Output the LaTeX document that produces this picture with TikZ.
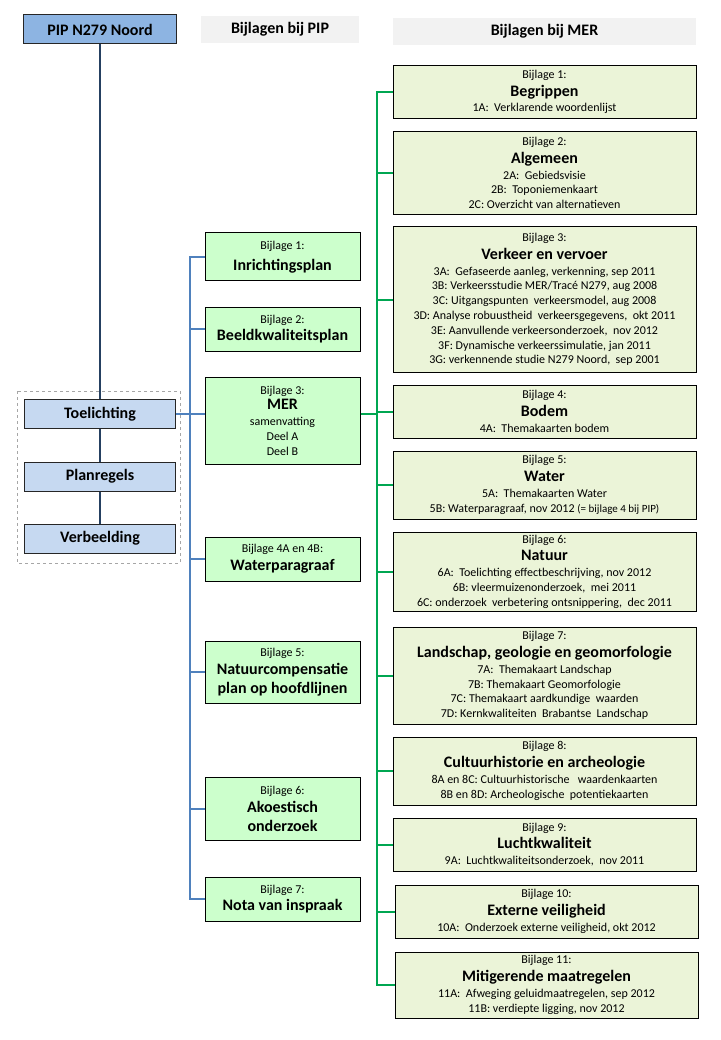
\documentclass[tikz,border=0pt]{standalone}
\usepackage{fontspec}
\setmainfont{Carlito}
\usetikzlibrary{positioning}
\definecolor{pipblue}{RGB}{141,180,226}
\definecolor{docblue}{RGB}{198,217,241}
\definecolor{pipgreen}{RGB}{204,255,204}
\definecolor{mergreen}{RGB}{235,244,216}
\definecolor{headgray}{RGB}{242,242,242}
\definecolor{navyline}{RGB}{37,64,97}
\definecolor{blueline}{RGB}{79,129,189}
\definecolor{greenline}{RGB}{0,166,81}
\newcommand{\kop}[1]{{\fontsize{16}{18}\selectfont\bfseries #1}}
\tikzset{
  pipbox/.style={draw=black!85, fill=pipblue, line width=1pt, minimum width=153pt, minimum height=29pt, inner sep=0pt, font=\fontsize{16}{18}\selectfont\bfseries},
  docbox/.style={draw=black!85, fill=docblue, line width=1pt, minimum width=151pt, minimum height=29pt, inner sep=0pt, font=\fontsize{16}{18}\selectfont\bfseries},
  kopbalk/.style={fill=headgray, minimum height=27pt, inner sep=0pt, font=\fontsize{16}{18}\selectfont\bfseries},
  pipbijlage/.style={draw=black, fill=pipgreen, line width=1pt, minimum width=155pt, inner sep=0pt, align=center},
  merbijlage/.style={draw=black, fill=mergreen, line width=1pt, minimum width=303pt, inner sep=0pt, align=center},
  navylijn/.style={draw=navyline, line width=2pt},
  pipspoor/.style={draw=blueline, line width=2pt},
  merspoor/.style={draw=greenline, line width=2pt}
}

\begin{document}
\begin{tikzpicture}[x=1pt, y=-1pt, every node/.style={font=\fontsize{12}{14.8}\selectfont}]
  \useasboundingbox (0,0) rectangle (720,1040);

  % Hoofddocument en kopjes
  \node[pipbox] (pip) at (100,29.5) {PIP N279 Noord};
  \node[kopbalk, minimum width=158pt] (hdpip) at (280,29.5) {Bijlagen bij PIP};
  \node[kopbalk, minimum width=303pt] (hdmer) at (544.5,31.5) {Bijlagen bij MER};

  % Onderdelen van het PIP (in gestippeld kader)
  \draw[gray!70, dashed, line width=0.5pt] (17,391) rectangle (180,563);
  \node[docbox] (toel) at (100,414) {Toelichting};
  \node[docbox] (plan) at (100,476.5) {Planregels};
  \node[docbox] (verb) at (100,538.5) {Verbeelding};

  % Bijlagen bij PIP
  \node[pipbijlage, minimum height=48pt] (pb1) at (282.5,257) {Bijlage 1:\\[6pt] \kop{Inrichtingsplan}};
  \node[pipbijlage, minimum height=44pt] (pb2) at (282.5,329) {Bijlage 2:\\[3pt] \kop{Beeldkwaliteitsplan}};
  \node[pipbijlage, minimum height=87pt] (pb3) at (282.5,420.5) {Bijlage 3:\\[1pt] \kop{MER}\\[1pt] samenvatting\\ Deel A\\ Deel B};
  \node[pipbijlage, minimum height=44pt] (pb4) at (282.5,559) {Bijlage 4A en 4B:\\[3pt] \kop{Waterparagraaf}};
  \node[pipbijlage, minimum height=62pt] (pb5) at (282.5,672) {Bijlage 5:\\[3pt] \kop{Natuurcompensatie}\\[4pt] \kop{plan op hoofdlijnen}};
  \node[pipbijlage, minimum height=63pt] (pb6) at (282.5,809) {Bijlage 6:\\[3pt] \kop{Akoestisch}\\[4pt] \kop{onderzoek}};
  \node[pipbijlage, minimum height=44pt] (pb7) at (282.5,899) {Bijlage 7:\\[3pt] \kop{Nota van inspraak}};

  % Bijlagen bij MER
  \node[merbijlage, minimum height=53pt] (mb1) at (544.5,92) {Bijlage 1:\\[3pt] \kop{Begrippen}\\[1pt] 1A:\ \ Verklarende woordenlijst};
  \node[merbijlage, minimum height=83pt] (mb2) at (544.5,173) {Bijlage 2:\\[3pt] \kop{Algemeen}\\[1pt] 2A:\ \ Gebiedsvisie\\ 2B:\ \ Toponiemenkaart\\ 2C: Overzicht van alternatieven};
  \node[merbijlage, minimum height=145pt] (mb3) at (544.5,299.5) {Bijlage 3:\\[3pt] \kop{Verkeer en vervoer}\\[1pt]
    3A:\ \ Gefaseerde aanleg, verkenning, sep 2011\\
    3B: Verkeersstudie MER/Tracé N279, aug 2008\\
    3C: Uitgangspunten\ \ verkeersmodel, aug 2008\\
    3D: Analyse robuustheid\ \ verkeersgegevens,\ \ okt 2011\\
    3E: Aanvullende verkeersonderzoek,\ \ nov 2012\\
    3F: Dynamische verkeerssimulatie, jan 2011\\
    3G: verkennende studie N279 Noord,\ \ sep 2001};
  \node[merbijlage, minimum height=53pt] (mb4) at (544.5,411.5) {Bijlage 4:\\[3pt] \kop{Bodem}\\[1pt] 4A:\ \ Themakaarten bodem};
  \node[merbijlage, minimum height=68pt] (mb5) at (544.5,485) {Bijlage 5:\\[3pt] \kop{Water}\\[1pt] 5A:\ \ Themakaarten Water\\
    5B: Waterparagraaf, nov 2012 {\fontsize{11}{14}\selectfont (= bijlage 4 bij PIP)}};
  \node[merbijlage, minimum height=79pt] (mb6) at (544.5,571.5) {Bijlage 6:\\[3pt] \kop{Natuur}\\[1pt]
    6A:\ \ Toelichting effectbeschrijving, nov 2012\\
    6B: vleermuizenonderzoek,\ \ mei 2011\\
    6C: onderzoek\ \ verbetering ontsnippering,\ \ dec 2011};
  \node[merbijlage, minimum height=97pt] (mb7) at (544.5,675.5) {Bijlage 7:\\[3pt] \kop{Landschap, geologie en geomorfologie}\\[1pt]
    7A:\ \ Themakaart Landschap\\
    7B: Themakaart Geomorfologie\\
    7C: Themakaart aardkundige\ \ waarden\\
    7D: Kernkwaliteiten\ \ Brabantse\ \ Landschap};
  \node[merbijlage, minimum height=68pt] (mb8) at (544.5,771) {Bijlage 8:\\[3pt] \kop{Cultuurhistorie en archeologie}\\[1pt]
    8A en 8C: Cultuurhistorische\ \ \ waardenkaarten\\
    8B en 8D: Archeologische\ \ potentiekaarten};
  \node[merbijlage, minimum height=53pt] (mb9) at (544.5,844.5) {Bijlage 9:\\[3pt] \kop{Luchtkwaliteit}\\[1pt] 9A:\ \ Luchtkwaliteitsonderzoek,\ \ nov 2011};
  \node[merbijlage, minimum height=53pt] (mb10) at (546.5,911.5) {Bijlage 10:\\[3pt] \kop{Externe veiligheid}\\[1pt] 10A:\ \ Onderzoek externe veiligheid, okt 2012};
  \node[merbijlage, minimum height=66pt] (mb11) at (546.5,985) {Bijlage 11:\\[3pt] \kop{Mitigerende maatregelen}\\[1pt]
    11A:\ \ Afweging geluidmaatregelen, sep 2012\\
    11B: verdiepte ligging, nov 2012};

  % Verbindingen PIP
  \coordinate (pipspine) at (190,0);
  \coordinate (merspine) at (377,0);
  \draw[navylijn] (pip.south) -- (toel.north);
  \draw[navylijn] (toel.south) -- (plan.north);
  \draw[navylijn] (plan.south) -- (verb.north);
  \draw[pipspoor] (toel.east) -- (toel.east -| pb3.west);
  \draw[pipspoor] (pb1.west) -- (pb1.west -| pipspine) -- (pb7.west -| pipspine) -- (pb7.west);
  \draw[pipspoor] (pb2.west) -- (pb2.west -| pipspine);
  \draw[pipspoor] (pb4.west) -- (pb4.west -| pipspine);
  \draw[pipspoor] (pb5.west) -- (pb5.west -| pipspine);
  \draw[pipspoor] (pb6.west) -- (pb6.west -| pipspine);

  % Verbindingen MER
  \draw[merspoor] (pb3.east |- toel.east) -- (toel.east -| merspine);
  \draw[merspoor] (mb1.west) -- (mb1.west -| merspine) -- (mb11.west -| merspine) -- (mb11.west);
  \draw[merspoor] (mb2.west) -- (mb2.west -| merspine);
  \draw[merspoor] (mb3.west) -- (mb3.west -| merspine);
  \draw[merspoor] (mb4.west) -- (mb4.west -| merspine);
  \draw[merspoor] (mb5.west) -- (mb5.west -| merspine);
  \draw[merspoor] (mb6.west) -- (mb6.west -| merspine);
  \draw[merspoor] (mb7.west) -- (mb7.west -| merspine);
  \draw[merspoor] (mb8.west) -- (mb8.west -| merspine);
  \draw[merspoor] (mb9.west) -- (mb9.west -| merspine);
  \draw[merspoor] (mb10.west) -- (mb10.west -| merspine);
\end{tikzpicture}
\end{document}
